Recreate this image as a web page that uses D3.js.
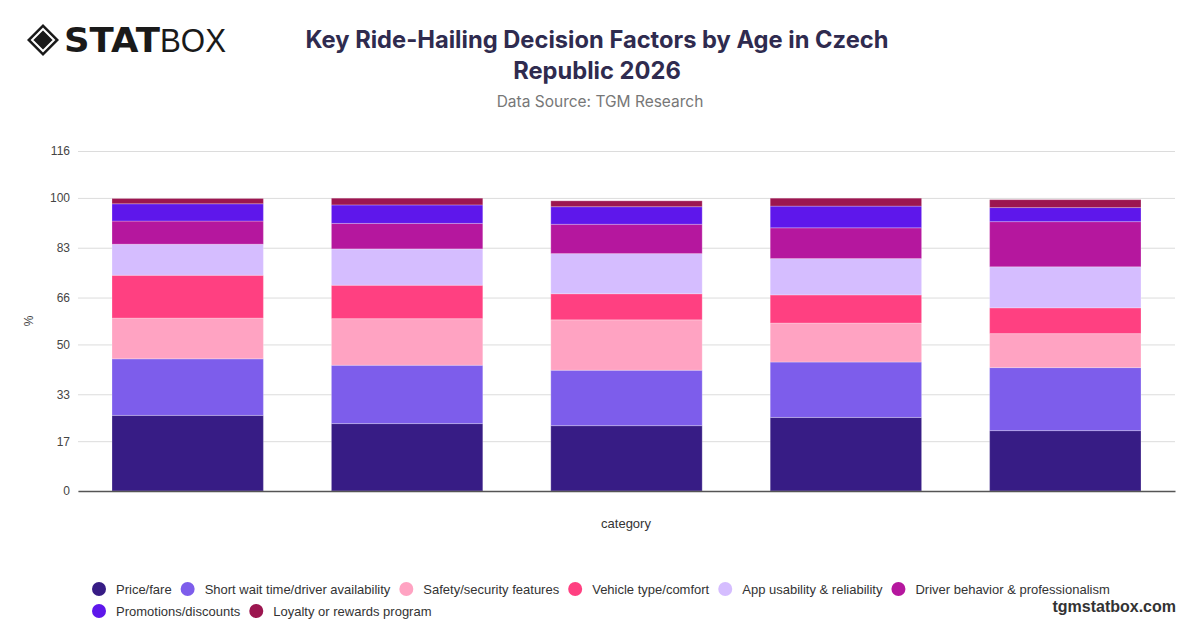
<!DOCTYPE html>
<html>
<head>
<meta charset="utf-8">
<script src="https://cdn.jsdelivr.net/npm/d3@7"></script>
<style>
  html, body { margin: 0; padding: 0; background: #fff; }
  svg { display: block; }
</style>
</head>
<body>
<svg id="chart" width="1200" height="628"></svg>
<script>
// ---- data ----
const categories = ["c1", "c2", "c3", "c4", "c5"];
const seriesNames = [
  "Price/fare",
  "Short wait time/driver availability",
  "Safety/security features",
  "Vehicle type/comfort",
  "App usability & reliability",
  "Driver behavior & professionalism",
  "Promotions/discounts",
  "Loyalty or rewards program"
];
const priceFare     = [25.8, 23.0, 22.3, 25.1, 20.6];
const shortWait     = [19.3, 19.9, 18.9, 18.9, 21.5];
const safety        = [13.9, 15.9, 17.2, 13.3, 11.6];
const vehicle       = [14.6, 11.4,  8.9,  9.6,  8.8];
const appUsability  = [10.6, 12.4, 13.7, 12.4, 14.0];
const driverBehav   = [ 7.9,  8.7, 10.0, 10.5, 15.4];
const promotions    = [ 5.9,  6.3,  6.0,  7.4,  4.8];
const loyalty       = [ 1.8,  2.3,  2.0,  2.7,  2.7];
const seriesValues = [priceFare, shortWait, safety, vehicle, appUsability, driverBehav, promotions, loyalty];
const colors = ["#371c85", "#7d5deb", "#ffa3c2", "#ff4081", "#d5bdff", "#b5179e", "#5e17eb", "#9c1650"];
const yTicks = [0, 17, 33, 50, 66, 83, 100, 116];
const yMax = 116;

// ---- layout ----
const svg = d3.select("#chart");
const margin = { left: 78, right: 25, top: 151, bottom: 137 };
const W = 1200, H = 628;
const plotW = W - margin.left - margin.right;
const plotH = H - margin.top - margin.bottom;

const rows = categories.map((c, i) => {
  const r = { category: c };
  seriesNames.forEach((s, j) => r[s] = seriesValues[j][i]);
  return r;
});
const stack = d3.stack().keys(seriesNames)(rows);

const x = d3.scaleBand().domain(categories).range([margin.left, margin.left + plotW])
  .paddingInner(0.31).paddingOuter(0.155);
const y = d3.scaleLinear().domain([0, yMax]).range([margin.top + plotH, margin.top]);

// grid
const gy = svg.append("g").attr("transform", `translate(${margin.left},0)`)
  .call(d3.axisLeft(y).tickValues(yTicks).tickSize(-plotW).tickFormat(d3.format("d")).tickPadding(8));
gy.select(".domain").remove();
gy.selectAll(".tick line").attr("stroke", "#dcdcdc").attr("stroke-width", 1);
gy.selectAll(".tick text").attr("fill", "#444").style("font-family", "'Liberation Sans', Arial, sans-serif").style("font-size", "12px");

// bars
const layer = svg.append("g").selectAll("g").data(stack).join("g")
  .attr("fill", (d, i) => colors[i]);
layer.selectAll("rect").data(d => d).join("rect")
  .attr("x", d => x(d.data.category))
  .attr("width", x.bandwidth())
  .attr("y", d => y(d[1]))
  .attr("height", d => y(d[0]) - y(d[1]))
  .attr("stroke", "#ffffff")
  .attr("stroke-opacity", 0.25)
  .attr("stroke-width", 1);

// x axis baseline
const gx = svg.append("g").attr("transform", `translate(0,${y(0)})`)
  .call(d3.axisBottom(x).tickSize(0).tickFormat(""));
gx.select(".domain").attr("stroke", "#555").attr("stroke-width", 1.3);

// axis titles
svg.append("text").attr("x", 626).attr("y", 528).attr("text-anchor", "middle")
  .attr("fill", "#333").style("font-family", "'Liberation Sans', Arial, sans-serif").style("font-size", "13px")
  .text("category");
svg.append("text").attr("transform", "translate(33,321) rotate(-90)").attr("text-anchor", "middle")
  .attr("fill", "#444").style("font-family", "'Liberation Sans', Arial, sans-serif").style("font-size", "12px")
  .text("%");

// title
const title = svg.append("text").attr("text-anchor", "middle")
  .attr("fill", "#2f2b4f").style("font-family", "Inter, 'Noto Sans', sans-serif")
  .style("font-size", "23.7px").style("font-weight", "700");
title.append("tspan").attr("x", 597).attr("y", 48).text("Key Ride-Hailing Decision Factors by Age in Czech");
title.append("tspan").attr("x", 597).attr("y", 79).text("Republic 2026");
svg.append("text").attr("x", 600).attr("y", 107).attr("text-anchor", "middle")
  .attr("fill", "#777").style("font-family", "Inter, 'Noto Sans', sans-serif").style("font-size", "15.5px")
  .text("Data Source: TGM Research");

// legend
const legend = svg.append("g");
let lx = 99, ly = 589;
seriesNames.forEach((s, i) => {
  const g = legend.append("g");
  const t = g.append("text").attr("y", ly + 4.5).attr("fill", "#333")
    .style("font-family", "'Liberation Sans', Arial, sans-serif").style("font-size", "13px").text(s);
  const tw = t.node().getComputedTextLength();
  if (lx + 17 + tw > 1130) { lx = 99; ly += 22; t.attr("y", ly + 4.5); }
  g.append("circle").attr("cx", lx).attr("cy", ly).attr("r", 7).attr("fill", colors[i]);
  t.attr("x", lx + 17);
  lx = lx + 17 + tw + 16;
});

// footer
svg.append("text").attr("x", 1176).attr("y", 612).attr("text-anchor", "end")
  .attr("fill", "#333").style("font-family", "'Liberation Sans', Arial, sans-serif")
  .style("font-size", "16px").style("font-weight", "700").text("tgmstatbox.com");

// logo
const logo = svg.append("g").attr("transform", "translate(43,40)");
logo.append("path").attr("d", "M0,-16 L16,0 L0,16 L-16,0 Z").attr("fill", "#1a1a1a");
logo.append("path").attr("d", "M0,-11 L11,0 L0,11 L-11,0 Z").attr("fill", "none").attr("stroke", "#fff").attr("stroke-width", 2);
logo.append("path").attr("d", "M0,-7 L7,0 L0,7 L-7,0 Z").attr("fill", "#1a1a1a");
const lt = svg.append("text").attr("x", 64).attr("y", 52).attr("fill", "#1a1a1a")
  .style("font-family", "'Liberation Sans', Arial, sans-serif").style("font-size", "33px");
lt.append("tspan").style("font-weight", "900").style("font-family", "'DejaVu Sans', sans-serif").attr("textLength", 96).attr("lengthAdjust", "spacingAndGlyphs").text("STAT");
lt.append("tspan").style("font-weight", "300").attr("textLength", 66).attr("lengthAdjust", "spacingAndGlyphs").text("BOX");
</script>
</body>
</html>
